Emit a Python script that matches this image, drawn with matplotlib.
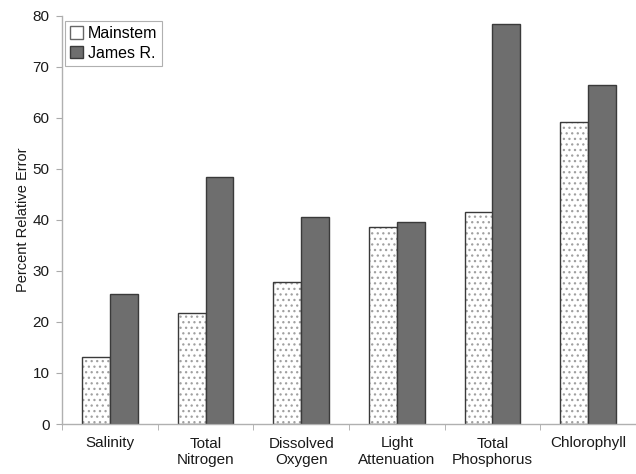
import numpy as np
import matplotlib.pyplot as plt
from matplotlib.patches import Patch

plt.rcParams['font.family'] = ['Liberation Sans', 'DejaVu Sans']
plt.rcParams['hatch.linewidth'] = 0.9

categories = ["Salinity", "Total\nNitrogen", "Dissolved\nOxygen", "Light\nAttenuation",
              "Total\nPhosphorus", "Chlorophyll"]
mainstem = [13.1, 21.8, 27.8, 38.6, 41.6, 59.3]
james = [25.4, 48.5, 40.5, 39.7, 78.4, 66.4]

fig = plt.figure(figsize=(6.36, 4.74), dpi=100)
ax = fig.add_axes([62 / 636, 1 - 424 / 474, (636 - 62) / 636, (424 - 16) / 474])

x = np.arange(len(categories))
w = 0.29
edge = '#3a3a3a'

# dotted fill for Mainstem, then a clean outline on top
ax.bar(x - w / 2, mainstem, w, color='white', hatch='...', edgecolor='#a0a0a0', linewidth=0)
ax.bar(x - w / 2, mainstem, w, fill=False, edgecolor=edge, linewidth=1.0)
ax.bar(x + w / 2, james, w, color='#6e6e6e', edgecolor=edge, linewidth=1.0)

ax.set_xlim(-0.5, 5.42)
ax.set_ylim(0, 80)
ax.set_yticks(np.arange(0, 81, 10))
ax.set_xticks(x)
ax.set_xticklabels(categories, fontsize=11, color='#1a1a1a', linespacing=1.2)
ax.set_xticks(np.arange(-0.5, 6, 1), minor=True)
ax.tick_params(axis='x', which='major', length=0, pad=9)
ax.tick_params(axis='x', which='minor', length=4, color='#aaaaaa', direction='out')
ax.tick_params(axis='y', length=4, color='#aaaaaa', labelsize=11, labelcolor='#1a1a1a', pad=5)

for s in ['top', 'right']:
    ax.spines[s].set_visible(False)
for s in ['left', 'bottom']:
    ax.spines[s].set_color('#b0b0b0')
    ax.spines[s].set_linewidth(1.0)

ax.set_ylabel("Percent Relative Error", fontsize=10.5, color='#1a1a1a', labelpad=2)

handles = [Patch(facecolor='white', edgecolor='#666666', label='Mainstem'),
           Patch(facecolor='#6e6e6e', edgecolor=edge, label='James R.')]
leg = ax.legend(handles=handles, loc='upper left', bbox_to_anchor=(0.0, 0.995),
                borderaxespad=0.2, fontsize=11.5, handlelength=0.8, handleheight=0.8,
                handletextpad=0.3, borderpad=0.3, labelspacing=0.3, fancybox=False,
                framealpha=1)
leg.get_frame().set_edgecolor('#b0b0b0')
leg.get_frame().set_linewidth(0.8)

fig.savefig("out.png", dpi=100)
